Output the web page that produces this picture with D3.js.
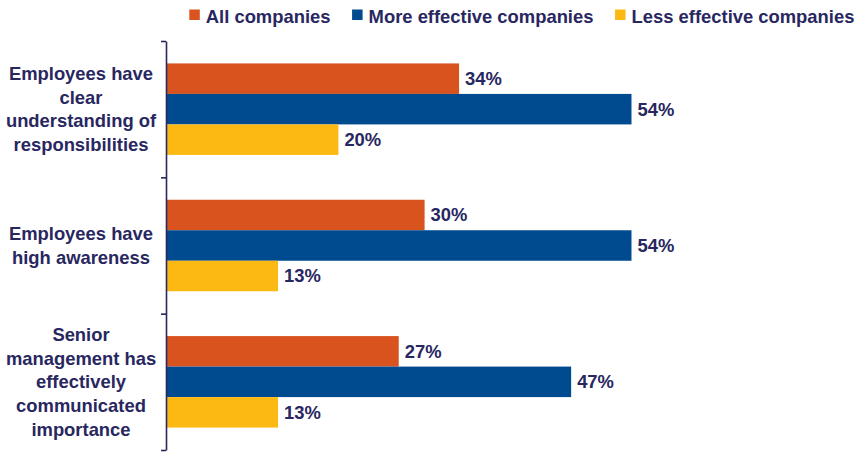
<!DOCTYPE html>
<html>
<head>
<meta charset="utf-8">
<script src="https://cdn.jsdelivr.net/npm/d3@7"></script>
<style>
  html, body { margin: 0; padding: 0; background: #fff; }
  svg { display: block; }
  text { font-family: "Liberation Sans", Arial, sans-serif; font-weight: bold; fill: #28275F; }
</style>
</head>
<body>
<svg id="chart" width="862" height="452"></svg>
<script>
// Survey categories (each split into display lines)
const categories = [
  ["Employees have", "clear", "understanding of", "responsibilities"],
  ["Employees have", "high awareness"],
  ["Senior", "management has", "effectively", "communicated", "importance"]
];
const seriesNames = ["All companies", "More effective companies", "Less effective companies"];
const seriesColors = ["#D9531E", "#004A8F", "#FDB913"];
// Percentages per category, in series order
const allCompanies = [34, 30, 27];
const moreEffective = [54, 54, 47];
const lessEffective = [20, 13, 13];
const seriesValues = [allCompanies, moreEffective, lessEffective];

const svg = d3.select("#chart");
const fontSize = 18.4;
const lineH = 23.6;

// Scales
const x = d3.scaleLinear().domain([0, 100]).range([166, 166 + 862]);
const yBounds = d3.scaleLinear().domain([0, categories.length]).range([41, 450]);
const y = d3.scaleBand().domain(d3.range(categories.length)).range([41, 450]).paddingInner(0).paddingOuter(0);
const ySub = d3.scaleBand().domain(d3.range(seriesNames.length))
  .range([0, y.bandwidth()]).paddingInner(0).paddingOuter(0.735);

// Bars
const groups = svg.append("g").selectAll("g")
  .data(categories.map((c, i) => i))
  .join("g")
  .attr("transform", i => `translate(0,${y(i)})`);

groups.selectAll("rect")
  .data(i => seriesValues.map((vals, s) => ({ s, v: vals[i] })))
  .join("rect")
  .attr("x", x(0))
  .attr("y", d => ySub(d.s))
  .attr("width", d => x(d.v) - x(0))
  .attr("height", ySub.bandwidth())
  .attr("fill", d => seriesColors[d.s]);

// Value labels
groups.selectAll("text.val")
  .data(i => seriesValues.map((vals, s) => ({ s, v: vals[i] })))
  .join("text")
  .attr("class", "val")
  .attr("x", d => x(d.v) + 6)
  .attr("y", d => ySub(d.s) + ySub.bandwidth() / 2 + 6.5)
  .style("font-size", fontSize + "px")
  .text(d => d.v + "%");

// Category labels, centred left of the axis
svg.append("g").selectAll("text")
  .data(categories)
  .join("text")
  .attr("text-anchor", "middle")
  .style("font-size", fontSize + "px")
  .each(function (lines, i) {
    const cy = y(i) + y.bandwidth() / 2 + 6.5 - (lines.length - 1) * lineH / 2;
    d3.select(this).selectAll("tspan")
      .data(lines)
      .join("tspan")
      .attr("x", 81)
      .attr("y", (l, k) => cy + k * lineH)
      .text(l => l);
  });

// Vertical category axis with boundary ticks
const axis = d3.axisLeft(yBounds)
  .tickValues(d3.range(categories.length + 1))
  .tickSize(5)
  .tickSizeOuter(0)
  .tickFormat("");
const axG = svg.append("g").attr("transform", "translate(166,0)").call(axis);
axG.select(".domain").attr("stroke", "#28275F").attr("stroke-width", 1.6);
axG.selectAll(".tick line").attr("stroke", "#28275F").attr("stroke-width", 1.6);

// Legend
const legend = svg.append("g");
let lx = 189.3;
seriesNames.forEach((name, s) => {
  legend.append("rect")
    .attr("x", lx).attr("y", 9.5)
    .attr("width", 10.5).attr("height", 10.5)
    .attr("fill", seriesColors[s]);
  const t = legend.append("text")
    .attr("x", lx + 16.5).attr("y", 22.7)
    .style("font-size", fontSize + "px")
    .text(name);
  lx += 16.5 + t.node().getComputedTextLength() + 21.6;
});
</script>
</body>
</html>
